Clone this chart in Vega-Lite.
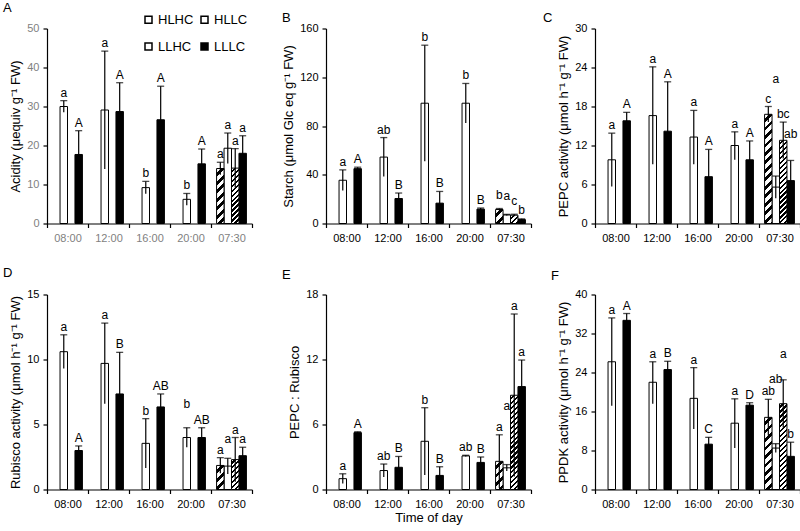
{
"$schema": "https://vega.github.io/schema/vega-lite/v6.json",
"padding": {"left": 3, "top": 1.5, "right": 0, "bottom": 0},
"params": [{"name": "hatch", "value": [{"offset":0,"color":"#fff"},{"offset":0.0229,"color":"#fff"},{"offset":0.0229,"color":"#000"},{"offset":0.0417,"color":"#000"},
{"offset":0.0417,"color":"#fff"},{"offset":0.0646,"color":"#fff"},{"offset":0.0646,"color":"#000"},{"offset":0.0833,"color":"#000"},
{"offset":0.0833,"color":"#fff"},{"offset":0.1063,"color":"#fff"},{"offset":0.1063,"color":"#000"},{"offset":0.125,"color":"#000"},
{"offset":0.125,"color":"#fff"},{"offset":0.1479,"color":"#fff"},{"offset":0.1479,"color":"#000"},{"offset":0.1667,"color":"#000"},
{"offset":0.1667,"color":"#fff"},{"offset":0.1896,"color":"#fff"},{"offset":0.1896,"color":"#000"},{"offset":0.2083,"color":"#000"},
{"offset":0.2083,"color":"#fff"},{"offset":0.2313,"color":"#fff"},{"offset":0.2313,"color":"#000"},{"offset":0.25,"color":"#000"},
{"offset":0.25,"color":"#fff"},{"offset":0.2729,"color":"#fff"},{"offset":0.2729,"color":"#000"},{"offset":0.2917,"color":"#000"},
{"offset":0.2917,"color":"#fff"},{"offset":0.3146,"color":"#fff"},{"offset":0.3146,"color":"#000"},{"offset":0.3333,"color":"#000"},
{"offset":0.3333,"color":"#fff"},{"offset":0.3563,"color":"#fff"},{"offset":0.3563,"color":"#000"},{"offset":0.375,"color":"#000"},
{"offset":0.375,"color":"#fff"},{"offset":0.3979,"color":"#fff"},{"offset":0.3979,"color":"#000"},{"offset":0.4167,"color":"#000"},
{"offset":0.4167,"color":"#fff"},{"offset":0.4396,"color":"#fff"},{"offset":0.4396,"color":"#000"},{"offset":0.4583,"color":"#000"},
{"offset":0.4583,"color":"#fff"},{"offset":0.4813,"color":"#fff"},{"offset":0.4813,"color":"#000"},{"offset":0.5,"color":"#000"},
{"offset":0.5,"color":"#fff"},{"offset":0.5229,"color":"#fff"},{"offset":0.5229,"color":"#000"},{"offset":0.5417,"color":"#000"},
{"offset":0.5417,"color":"#fff"},{"offset":0.5646,"color":"#fff"},{"offset":0.5646,"color":"#000"},{"offset":0.5833,"color":"#000"},
{"offset":0.5833,"color":"#fff"},{"offset":0.6063,"color":"#fff"},{"offset":0.6063,"color":"#000"},{"offset":0.625,"color":"#000"},
{"offset":0.625,"color":"#fff"},{"offset":0.6479,"color":"#fff"},{"offset":0.6479,"color":"#000"},{"offset":0.6667,"color":"#000"},
{"offset":0.6667,"color":"#fff"},{"offset":0.6896,"color":"#fff"},{"offset":0.6896,"color":"#000"},{"offset":0.7083,"color":"#000"},
{"offset":0.7083,"color":"#fff"},{"offset":0.7313,"color":"#fff"},{"offset":0.7313,"color":"#000"},{"offset":0.75,"color":"#000"},
{"offset":0.75,"color":"#fff"},{"offset":0.7729,"color":"#fff"},{"offset":0.7729,"color":"#000"},{"offset":0.7917,"color":"#000"},
{"offset":0.7917,"color":"#fff"},{"offset":0.8146,"color":"#fff"},{"offset":0.8146,"color":"#000"},{"offset":0.8333,"color":"#000"},
{"offset":0.8333,"color":"#fff"},{"offset":0.8563,"color":"#fff"},{"offset":0.8563,"color":"#000"},{"offset":0.875,"color":"#000"},
{"offset":0.875,"color":"#fff"},{"offset":0.8979,"color":"#fff"},{"offset":0.8979,"color":"#000"},{"offset":0.9167,"color":"#000"},
{"offset":0.9167,"color":"#fff"},{"offset":0.9396,"color":"#fff"},{"offset":0.9396,"color":"#000"},{"offset":0.9583,"color":"#000"},
{"offset":0.9583,"color":"#fff"},{"offset":0.9813,"color":"#fff"},{"offset":0.9813,"color":"#000"},{"offset":1,"color":"#000"}]},
{"name": "half", "value": [{"offset":0,"color":"#fff"},{"offset":0.5,"color":"#fff"},{"offset":0.5,"color":"#000"},{"offset":1,"color":"#000"}]}],
"data": {"values": [
{"p":"A","t":"08:00","g":"HLLC","v":30.0,"lo":28.5,"hi":31.5,"l":"a"},
{"p":"A","t":"08:00","g":"LLLC","v":17.7,"lo":11.6,"hi":23.8,"l":"A"},
{"p":"A","t":"12:00","g":"HLLC","v":29.1,"lo":14.0,"hi":44.2,"l":"a"},
{"p":"A","t":"12:00","g":"LLLC","v":28.7,"lo":21.3,"hi":36.1,"l":"A"},
{"p":"A","t":"16:00","g":"HLLC","v":9.2,"lo":7.6,"hi":10.8,"l":"b"},
{"p":"A","t":"16:00","g":"LLLC","v":26.6,"lo":18.0,"hi":35.2,"l":"A"},
{"p":"A","t":"20:00","g":"HLLC","v":6.2,"lo":4.7,"hi":7.7,"l":"b"},
{"p":"A","t":"20:00","g":"LLLC","v":15.3,"lo":11.5,"hi":19.1,"l":"A"},
{"p":"A","t":"07:30","g":"HLHC","v":14.1,"lo":12.5,"hi":15.7,"l":"a"},
{"p":"A","t":"07:30","g":"HLLC","v":19.3,"lo":15.4,"hi":23.2,"l":"a"},
{"p":"A","t":"07:30","g":"LLHC","v":14.2,"lo":9.2,"hi":19.2,"l":"a"},
{"p":"A","t":"07:30","g":"LLLC","v":18.0,"lo":13.5,"hi":22.5,"l":"a"},
{"p":"B","t":"08:00","g":"HLLC","v":35.5,"lo":27,"hi":44,"l":"a"},
{"p":"B","t":"08:00","g":"LLLC","v":45,"lo":44,"hi":46.2,"l":"A"},
{"p":"B","t":"12:00","g":"HLLC","v":54.5,"lo":38.5,"hi":70.5,"l":"ab"},
{"p":"B","t":"12:00","g":"LLLC","v":20.5,"lo":16,"hi":25,"l":"B"},
{"p":"B","t":"16:00","g":"HLLC","v":98.7,"lo":51,"hi":146.3,"l":"b"},
{"p":"B","t":"16:00","g":"LLLC","v":16.7,"lo":7.1,"hi":26.3,"l":"B"},
{"p":"B","t":"20:00","g":"HLLC","v":98.7,"lo":82.5,"hi":114.9,"l":"b"},
{"p":"B","t":"20:00","g":"LLLC","v":11.8,"lo":10.9,"hi":12.7,"l":"B"},
{"p":"B","t":"07:30","g":"HLHC","v":11.5,"lo":10.7,"hi":12.3,"l":"b","ly":20.5},
{"p":"B","t":"07:30","g":"HLLC","v":7.0,"lo":6.5,"hi":7.5,"l":"a","ly":19.5},
{"p":"B","t":"07:30","g":"LLHC","v":6.8,"lo":6.0,"hi":7.6,"l":"c","ly":15.5},
{"p":"B","t":"07:30","g":"LLLC","v":3.2,"lo":2.6,"hi":3.8,"l":"b","ly":8},
{"p":"C","t":"08:00","g":"HLLC","v":9.8,"lo":5.7,"hi":13.9,"l":"a"},
{"p":"C","t":"08:00","g":"LLLC","v":15.8,"lo":14.5,"hi":17.1,"l":"A"},
{"p":"C","t":"12:00","g":"HLLC","v":16.6,"lo":9.1,"hi":24.1,"l":"a"},
{"p":"C","t":"12:00","g":"LLLC","v":14.2,"lo":6.6,"hi":21.8,"l":"A"},
{"p":"C","t":"16:00","g":"HLLC","v":13.3,"lo":9.1,"hi":17.4,"l":"a"},
{"p":"C","t":"16:00","g":"LLLC","v":7.2,"lo":3.0,"hi":11.4,"l":"A"},
{"p":"C","t":"20:00","g":"HLLC","v":12.0,"lo":9.8,"hi":14.1,"l":"a"},
{"p":"C","t":"20:00","g":"LLLC","v":9.8,"lo":6.9,"hi":12.7,"l":"A"},
{"p":"C","t":"07:30","g":"HLHC","v":16.8,"lo":15.6,"hi":18.0,"l":"c"},
{"p":"C","t":"07:30","g":"HLLC","v":5.6,"lo":3.9,"hi":7.3,"l":"a","ly":21.6},
{"p":"C","t":"07:30","g":"LLHC","v":12.8,"lo":10.0,"hi":15.6,"l":"bc"},
{"p":"C","t":"07:30","g":"LLLC","v":6.6,"lo":3.5,"hi":9.7,"l":"ab","ly":13.2},
{"p":"D","t":"08:00","g":"HLLC","v":10.6,"lo":9.3,"hi":11.9,"l":"a"},
{"p":"D","t":"08:00","g":"LLLC","v":3.0,"lo":2.7,"hi":3.35,"l":"A"},
{"p":"D","t":"12:00","g":"HLLC","v":9.7,"lo":6.6,"hi":12.8,"l":"a"},
{"p":"D","t":"12:00","g":"LLLC","v":7.35,"lo":4.15,"hi":10.55,"l":"B"},
{"p":"D","t":"16:00","g":"HLLC","v":3.55,"lo":1.65,"hi":5.45,"l":"b"},
{"p":"D","t":"16:00","g":"LLLC","v":6.35,"lo":5.35,"hi":7.35,"l":"AB"},
{"p":"D","t":"20:00","g":"HLLC","v":4.0,"lo":3.25,"hi":4.75,"l":"b","ly":6.3},
{"p":"D","t":"20:00","g":"LLLC","v":4.0,"lo":3.25,"hi":4.75,"l":"AB"},
{"p":"D","t":"07:30","g":"HLHC","v":1.85,"lo":1.25,"hi":2.45,"l":"a"},
{"p":"D","t":"07:30","g":"HLLC","v":1.8,"lo":1.2,"hi":2.4,"l":"a","ly":3.6},
{"p":"D","t":"07:30","g":"LLHC","v":2.3,"lo":0.6,"hi":4.0,"l":"a"},
{"p":"D","t":"07:30","g":"LLLC","v":2.6,"lo":1.95,"hi":3.25,"l":"a"},
{"p":"E","t":"08:00","g":"HLLC","v":1.0,"lo":0.55,"hi":1.45,"l":"a"},
{"p":"E","t":"08:00","g":"LLLC","v":5.25,"lo":5.17,"hi":5.33,"l":"A"},
{"p":"E","t":"12:00","g":"HLLC","v":1.75,"lo":1.15,"hi":2.35,"l":"ab"},
{"p":"E","t":"12:00","g":"LLLC","v":2.05,"lo":1.05,"hi":3.05,"l":"B"},
{"p":"E","t":"16:00","g":"HLLC","v":4.45,"lo":1.35,"hi":7.55,"l":"b"},
{"p":"E","t":"16:00","g":"LLLC","v":1.3,"lo":0.5,"hi":2.1,"l":"B"},
{"p":"E","t":"20:00","g":"HLLC","v":3.1,"lo":3.04,"hi":3.16,"l":"ab"},
{"p":"E","t":"20:00","g":"LLLC","v":2.5,"lo":2.0,"hi":3.0,"l":"B"},
{"p":"E","t":"07:30","g":"HLHC","v":2.6,"lo":0.15,"hi":5.05,"l":"a"},
{"p":"E","t":"07:30","g":"HLLC","v":2.0,"lo":1.7,"hi":2.3,"l":"a","ly":7.3},
{"p":"E","t":"07:30","g":"LLHC","v":8.7,"lo":1.2,"hi":16.2,"l":"a"},
{"p":"E","t":"07:30","g":"LLLC","v":9.5,"lo":7.05,"hi":11.95,"l":"a"},
{"p":"F","t":"08:00","g":"HLLC","v":26.2,"lo":17.2,"hi":35.2,"l":"a"},
{"p":"F","t":"08:00","g":"LLLC","v":34.7,"lo":33.3,"hi":36.1,"l":"A"},
{"p":"F","t":"12:00","g":"HLLC","v":22.0,"lo":17.6,"hi":26.2,"l":"a"},
{"p":"F","t":"12:00","g":"LLLC","v":24.6,"lo":22.9,"hi":26.3,"l":"B"},
{"p":"F","t":"16:00","g":"HLLC","v":18.7,"lo":12.4,"hi":25.0,"l":"a"},
{"p":"F","t":"16:00","g":"LLLC","v":9.3,"lo":7.9,"hi":10.7,"l":"C"},
{"p":"F","t":"20:00","g":"HLLC","v":13.6,"lo":8.5,"hi":18.6,"l":"a"},
{"p":"F","t":"20:00","g":"LLLC","v":17.3,"lo":16.8,"hi":17.8,"l":"D"},
{"p":"F","t":"07:30","g":"HLHC","v":14.8,"lo":11.1,"hi":18.5,"l":"ab"},
{"p":"F","t":"07:30","g":"HLLC","v":8.5,"lo":7.6,"hi":9.4,"l":"ab","ly":21.8},
{"p":"F","t":"07:30","g":"LLHC","v":17.6,"lo":12.7,"hi":22.5,"l":"a","ly":27},
{"p":"F","t":"07:30","g":"LLLC","v":6.8,"lo":3.9,"hi":9.7,"l":"b"}
]},
"columns": 3,
"spacing": {"row": 71, "column": 64},
"bounds": "flush",
"resolve": {"scale": {"fill": "independent"}, "legend": {"fill": "independent"}},
"concat": [
{
 "title": "A", "width": 215, "height": 195,
 "transform": [{"filter": "datum.p==='A'"}],
 "encoding": {
  "x": {"field": "t", "type": "nominal", "scale": {"domain": ["08:00","12:00","16:00","20:00","07:30"], "paddingInner": 0, "paddingOuter": 0, "range": [0, 205]}, "axis": {"title": null, "labelColor": "#7f7f7f"}},
  "xOffset": {"field": "g", "type": "nominal", "scale": {"domain": ["HLHC","HLLC","LLHC","LLLC"], "paddingInner": 0, "paddingOuter": 0.75}}
 },
 "layer": [
  {"transform": [{"filter": "datum.g==='HLLC'||datum.g==='LLLC'"}], "mark": {"type": "bar", "stroke": "#000", "strokeWidth": 1},
   "encoding": {"y": {"field": "v", "type": "quantitative", "scale": {"domain": [0, 50], "nice": false}, "axis": {"values": [0,10,20,30,40,50], "title": "Acidity  (μequiv g⁻¹ FW)", "labelColor": "#7f7f7f"}},
    "fill": {"field": "g", "type": "nominal", "scale": {"domain": ["HLHC","LLHC","HLLC","LLLC"], "range": ["#fff","#fff","#fff","#000"]},
     "legend": {"orient": "none", "legendX": 95, "legendY": -15.5, "columns": 2, "title": null, "symbolType": "square", "symbolSize": 49, "labelFontSize": 13, "labelOffset": 3, "rowPadding": 13, "columnPadding": 4, "labelColor": "#000", "labelFont": "Liberation Sans",
      "encode": {"symbols": {"update": {"fill": {"signal": "datum.value==='HLHC'?{gradient:'linear',x1:0,y1:0,x2:1,y2:1,stops:half}:datum.value==='LLHC'?{gradient:'linear',x1:0,y1:0,x2:8,y2:8,stops:hatch}:datum.value==='HLLC'?'#fff':'#000'"}, "stroke": {"value": "#000"}, "strokeWidth": {"value": 1}, "opacity": {"value": 1}}}}}}}},
  {"transform": [{"filter": "datum.g==='HLHC'||datum.g==='LLHC'"}], "mark": {"type": "bar", "stroke": "#000", "strokeWidth": 1, "fill": {"expr": "{gradient:'linear',x1:0,y1:0,x2:(datum.g==='HLHC'?203.6:118.8)*7.45/(pow(datum.v*3.9,2)+55.5),y2:(datum.g==='HLHC'?203.6:118.8)*datum.v*3.9/(pow(datum.v*3.9,2)+55.5),stops:hatch}"}},
   "encoding": {"y": {"field": "v", "type": "quantitative", "scale": {"domain": [0, 50], "nice": false}, "axis": {"values": [0,10,20,30,40,50], "title": "Acidity  (μequiv g⁻¹ FW)", "labelColor": "#7f7f7f"}}}},
  {"mark": {"type": "rule", "color": "#000", "strokeWidth": 1.2}, "encoding": {"y": {"field": "lo", "type": "quantitative", "scale": {"domain": [0, 50], "nice": false}, "axis": {"values": [0,10,20,30,40,50], "title": "Acidity  (μequiv g⁻¹ FW)", "labelColor": "#7f7f7f"}}, "y2": {"field": "hi"}}},
  {"mark": {"type": "tick", "orient": "horizontal", "size": 7, "thickness": 1.3, "color": "#000"}, "encoding": {"y": {"field": "hi", "type": "quantitative", "scale": {"domain": [0, 50], "nice": false}, "axis": {"values": [0,10,20,30,40,50], "title": "Acidity  (μequiv g⁻¹ FW)", "labelColor": "#7f7f7f"}}}},
  {"transform": [{"filter": "!isValid(datum.ly)"}], "mark": {"type": "text", "dy": -4, "baseline": "alphabetic"}, "encoding": {"y": {"field": "hi", "type": "quantitative", "scale": {"domain": [0, 50], "nice": false}, "axis": {"values": [0,10,20,30,40,50], "title": "Acidity  (μequiv g⁻¹ FW)", "labelColor": "#7f7f7f"}}, "text": {"field": "l"}}},
  {"transform": [{"filter": "isValid(datum.ly)"}], "mark": {"type": "text", "baseline": "alphabetic"}, "encoding": {"y": {"field": "ly", "type": "quantitative", "scale": {"domain": [0, 50], "nice": false}, "axis": {"values": [0,10,20,30,40,50], "title": "Acidity  (μequiv g⁻¹ FW)", "labelColor": "#7f7f7f"}}, "text": {"field": "l"}}}
 ]
},
{
 "title": "B", "width": 205, "height": 195,
 "transform": [{"filter": "datum.p==='B'"}],
 "encoding": {
  "x": {"field": "t", "type": "nominal", "scale": {"domain": ["08:00","12:00","16:00","20:00","07:30"], "paddingInner": 0, "paddingOuter": 0}, "axis": {"title": null}},
  "xOffset": {"field": "g", "type": "nominal", "scale": {"domain": ["HLHC","HLLC","LLHC","LLLC"], "paddingInner": 0, "paddingOuter": 0.75}}
 },
 "layer": [
  {"transform": [{"filter": "datum.g==='HLLC'||datum.g==='LLLC'"}], "mark": {"type": "bar", "stroke": "#000", "strokeWidth": 1},
   "encoding": {"y": {"field": "v", "type": "quantitative", "scale": {"domain": [0, 160], "nice": false}, "axis": {"values": [0,40,80,120,160], "title": "Starch (μmol Glc eq g⁻¹ FW)"}},
    "fill": {"field": "g", "type": "nominal", "scale": {"domain": ["HLHC","LLHC","HLLC","LLLC"], "range": ["#fff","#fff","#fff","#000"]}, "legend": null}}},
  {"transform": [{"filter": "datum.g==='HLHC'||datum.g==='LLHC'"}], "mark": {"type": "bar", "stroke": "#000", "strokeWidth": 1, "fill": {"expr": "{gradient:'linear',x1:0,y1:0,x2:(datum.g==='HLHC'?203.6:118.8)*7.45/(pow(datum.v*1.21875,2)+55.5),y2:(datum.g==='HLHC'?203.6:118.8)*datum.v*1.21875/(pow(datum.v*1.21875,2)+55.5),stops:hatch}"}},
   "encoding": {"y": {"field": "v", "type": "quantitative", "scale": {"domain": [0, 160], "nice": false}, "axis": {"values": [0,40,80,120,160], "title": "Starch (μmol Glc eq g⁻¹ FW)"}}}},
  {"mark": {"type": "rule", "color": "#000", "strokeWidth": 1.2}, "encoding": {"y": {"field": "lo", "type": "quantitative", "scale": {"domain": [0, 160], "nice": false}, "axis": {"values": [0,40,80,120,160], "title": "Starch (μmol Glc eq g⁻¹ FW)"}}, "y2": {"field": "hi"}}},
  {"mark": {"type": "tick", "orient": "horizontal", "size": 7, "thickness": 1.3, "color": "#000"}, "encoding": {"y": {"field": "hi", "type": "quantitative", "scale": {"domain": [0, 160], "nice": false}, "axis": {"values": [0,40,80,120,160], "title": "Starch (μmol Glc eq g⁻¹ FW)"}}}},
  {"transform": [{"filter": "!isValid(datum.ly)"}], "mark": {"type": "text", "dy": -4, "baseline": "alphabetic"}, "encoding": {"y": {"field": "hi", "type": "quantitative", "scale": {"domain": [0, 160], "nice": false}, "axis": {"values": [0,40,80,120,160], "title": "Starch (μmol Glc eq g⁻¹ FW)"}}, "text": {"field": "l"}}},
  {"transform": [{"filter": "isValid(datum.ly)"}], "mark": {"type": "text", "baseline": "alphabetic"}, "encoding": {"y": {"field": "ly", "type": "quantitative", "scale": {"domain": [0, 160], "nice": false}, "axis": {"values": [0,40,80,120,160], "title": "Starch (μmol Glc eq g⁻¹ FW)"}}, "text": {"field": "l"}}}
 ]
},
{
 "title": {"text": "C", "dx": -52}, "width": 205, "height": 195,
 "transform": [{"filter": "datum.p==='C'"}],
 "encoding": {
  "x": {"field": "t", "type": "nominal", "scale": {"domain": ["08:00","12:00","16:00","20:00","07:30"], "paddingInner": 0, "paddingOuter": 0}, "axis": {"title": null}},
  "xOffset": {"field": "g", "type": "nominal", "scale": {"domain": ["HLHC","HLLC","LLHC","LLLC"], "paddingInner": 0, "paddingOuter": 0.75}}
 },
 "layer": [
  {"transform": [{"filter": "datum.g==='HLLC'||datum.g==='LLLC'"}], "mark": {"type": "bar", "stroke": "#000", "strokeWidth": 1},
   "encoding": {"y": {"field": "v", "type": "quantitative", "scale": {"domain": [0, 30], "nice": false}, "axis": {"values": [0,6,12,18,24,30], "title": "PEPC activity (μmol h⁻¹ g⁻¹ FW)"}},
    "fill": {"field": "g", "type": "nominal", "scale": {"domain": ["HLHC","LLHC","HLLC","LLLC"], "range": ["#fff","#fff","#fff","#000"]}, "legend": null}}},
  {"transform": [{"filter": "datum.g==='HLHC'||datum.g==='LLHC'"}], "mark": {"type": "bar", "stroke": "#000", "strokeWidth": 1, "fill": {"expr": "{gradient:'linear',x1:0,y1:0,x2:(datum.g==='HLHC'?203.6:118.8)*7.45/(pow(datum.v*6.5,2)+55.5),y2:(datum.g==='HLHC'?203.6:118.8)*datum.v*6.5/(pow(datum.v*6.5,2)+55.5),stops:hatch}"}},
   "encoding": {"y": {"field": "v", "type": "quantitative", "scale": {"domain": [0, 30], "nice": false}, "axis": {"values": [0,6,12,18,24,30], "title": "PEPC activity (μmol h⁻¹ g⁻¹ FW)"}}}},
  {"mark": {"type": "rule", "color": "#000", "strokeWidth": 1.2}, "encoding": {"y": {"field": "lo", "type": "quantitative", "scale": {"domain": [0, 30], "nice": false}, "axis": {"values": [0,6,12,18,24,30], "title": "PEPC activity (μmol h⁻¹ g⁻¹ FW)"}}, "y2": {"field": "hi"}}},
  {"mark": {"type": "tick", "orient": "horizontal", "size": 7, "thickness": 1.3, "color": "#000"}, "encoding": {"y": {"field": "hi", "type": "quantitative", "scale": {"domain": [0, 30], "nice": false}, "axis": {"values": [0,6,12,18,24,30], "title": "PEPC activity (μmol h⁻¹ g⁻¹ FW)"}}}},
  {"transform": [{"filter": "!isValid(datum.ly)"}], "mark": {"type": "text", "dy": -4, "baseline": "alphabetic"}, "encoding": {"y": {"field": "hi", "type": "quantitative", "scale": {"domain": [0, 30], "nice": false}, "axis": {"values": [0,6,12,18,24,30], "title": "PEPC activity (μmol h⁻¹ g⁻¹ FW)"}}, "text": {"field": "l"}}},
  {"transform": [{"filter": "isValid(datum.ly)"}], "mark": {"type": "text", "baseline": "alphabetic"}, "encoding": {"y": {"field": "ly", "type": "quantitative", "scale": {"domain": [0, 30], "nice": false}, "axis": {"values": [0,6,12,18,24,30], "title": "PEPC activity (μmol h⁻¹ g⁻¹ FW)"}}, "text": {"field": "l"}}}
 ]
},
{
 "title": {"text": "D", "dy": -5}, "width": 215, "height": 195,
 "transform": [{"filter": "datum.p==='D'"}],
 "encoding": {
  "x": {"field": "t", "type": "nominal", "scale": {"domain": ["08:00","12:00","16:00","20:00","07:30"], "paddingInner": 0, "paddingOuter": 0, "range": [0, 205]}, "axis": {"title": null}},
  "xOffset": {"field": "g", "type": "nominal", "scale": {"domain": ["HLHC","HLLC","LLHC","LLLC"], "paddingInner": 0, "paddingOuter": 0.75}}
 },
 "layer": [
  {"transform": [{"filter": "datum.g==='HLLC'||datum.g==='LLLC'"}], "mark": {"type": "bar", "stroke": "#000", "strokeWidth": 1},
   "encoding": {"y": {"field": "v", "type": "quantitative", "scale": {"domain": [0, 15], "nice": false}, "axis": {"values": [0,5,10,15], "title": "Rubisco activity (μmol h⁻¹ g⁻¹ FW)"}},
    "fill": {"field": "g", "type": "nominal", "scale": {"domain": ["HLHC","LLHC","HLLC","LLLC"], "range": ["#fff","#fff","#fff","#000"]}, "legend": null}}},
  {"transform": [{"filter": "datum.g==='HLHC'||datum.g==='LLHC'"}], "mark": {"type": "bar", "stroke": "#000", "strokeWidth": 1, "fill": {"expr": "{gradient:'linear',x1:0,y1:0,x2:(datum.g==='HLHC'?203.6:118.8)*7.45/(pow(datum.v*13,2)+55.5),y2:(datum.g==='HLHC'?203.6:118.8)*datum.v*13/(pow(datum.v*13,2)+55.5),stops:hatch}"}},
   "encoding": {"y": {"field": "v", "type": "quantitative", "scale": {"domain": [0, 15], "nice": false}, "axis": {"values": [0,5,10,15], "title": "Rubisco activity (μmol h⁻¹ g⁻¹ FW)"}}}},
  {"mark": {"type": "rule", "color": "#000", "strokeWidth": 1.2}, "encoding": {"y": {"field": "lo", "type": "quantitative", "scale": {"domain": [0, 15], "nice": false}, "axis": {"values": [0,5,10,15], "title": "Rubisco activity (μmol h⁻¹ g⁻¹ FW)"}}, "y2": {"field": "hi"}}},
  {"mark": {"type": "tick", "orient": "horizontal", "size": 7, "thickness": 1.3, "color": "#000"}, "encoding": {"y": {"field": "hi", "type": "quantitative", "scale": {"domain": [0, 15], "nice": false}, "axis": {"values": [0,5,10,15], "title": "Rubisco activity (μmol h⁻¹ g⁻¹ FW)"}}}},
  {"transform": [{"filter": "!isValid(datum.ly)"}], "mark": {"type": "text", "dy": -4, "baseline": "alphabetic"}, "encoding": {"y": {"field": "hi", "type": "quantitative", "scale": {"domain": [0, 15], "nice": false}, "axis": {"values": [0,5,10,15], "title": "Rubisco activity (μmol h⁻¹ g⁻¹ FW)"}}, "text": {"field": "l"}}},
  {"transform": [{"filter": "isValid(datum.ly)"}], "mark": {"type": "text", "baseline": "alphabetic"}, "encoding": {"y": {"field": "ly", "type": "quantitative", "scale": {"domain": [0, 15], "nice": false}, "axis": {"values": [0,5,10,15], "title": "Rubisco activity (μmol h⁻¹ g⁻¹ FW)"}}, "text": {"field": "l"}}}
 ]
},
{
 "title": {"text": "E", "dy": -2.5}, "width": 205, "height": 195,
 "transform": [{"filter": "datum.p==='E'"}],
 "encoding": {
  "x": {"field": "t", "type": "nominal", "scale": {"domain": ["08:00","12:00","16:00","20:00","07:30"], "paddingInner": 0, "paddingOuter": 0}, "axis": {"title": "Time of day", "titlePadding": 2}},
  "xOffset": {"field": "g", "type": "nominal", "scale": {"domain": ["HLHC","HLLC","LLHC","LLLC"], "paddingInner": 0, "paddingOuter": 0.75}}
 },
 "layer": [
  {"transform": [{"filter": "datum.g==='HLLC'||datum.g==='LLLC'"}], "mark": {"type": "bar", "stroke": "#000", "strokeWidth": 1},
   "encoding": {"y": {"field": "v", "type": "quantitative", "scale": {"domain": [0, 18], "nice": false}, "axis": {"values": [0,6,12,18], "title": "PEPC : Rubisco"}},
    "fill": {"field": "g", "type": "nominal", "scale": {"domain": ["HLHC","LLHC","HLLC","LLLC"], "range": ["#fff","#fff","#fff","#000"]}, "legend": null}}},
  {"transform": [{"filter": "datum.g==='HLHC'||datum.g==='LLHC'"}], "mark": {"type": "bar", "stroke": "#000", "strokeWidth": 1, "fill": {"expr": "{gradient:'linear',x1:0,y1:0,x2:(datum.g==='HLHC'?203.6:118.8)*7.45/(pow(datum.v*10.8333,2)+55.5),y2:(datum.g==='HLHC'?203.6:118.8)*datum.v*10.8333/(pow(datum.v*10.8333,2)+55.5),stops:hatch}"}},
   "encoding": {"y": {"field": "v", "type": "quantitative", "scale": {"domain": [0, 18], "nice": false}, "axis": {"values": [0,6,12,18], "title": "PEPC : Rubisco"}}}},
  {"mark": {"type": "rule", "color": "#000", "strokeWidth": 1.2}, "encoding": {"y": {"field": "lo", "type": "quantitative", "scale": {"domain": [0, 18], "nice": false}, "axis": {"values": [0,6,12,18], "title": "PEPC : Rubisco"}}, "y2": {"field": "hi"}}},
  {"mark": {"type": "tick", "orient": "horizontal", "size": 7, "thickness": 1.3, "color": "#000"}, "encoding": {"y": {"field": "hi", "type": "quantitative", "scale": {"domain": [0, 18], "nice": false}, "axis": {"values": [0,6,12,18], "title": "PEPC : Rubisco"}}}},
  {"transform": [{"filter": "!isValid(datum.ly)"}], "mark": {"type": "text", "dy": -4, "baseline": "alphabetic"}, "encoding": {"y": {"field": "hi", "type": "quantitative", "scale": {"domain": [0, 18], "nice": false}, "axis": {"values": [0,6,12,18], "title": "PEPC : Rubisco"}}, "text": {"field": "l"}}},
  {"transform": [{"filter": "isValid(datum.ly)"}], "mark": {"type": "text", "baseline": "alphabetic"}, "encoding": {"y": {"field": "ly", "type": "quantitative", "scale": {"domain": [0, 18], "nice": false}, "axis": {"values": [0,6,12,18], "title": "PEPC : Rubisco"}}, "text": {"field": "l"}}}
 ]
},
{
 "title": {"text": "F", "dy": -1.5}, "width": 205, "height": 195,
 "transform": [{"filter": "datum.p==='F'"}],
 "encoding": {
  "x": {"field": "t", "type": "nominal", "scale": {"domain": ["08:00","12:00","16:00","20:00","07:30"], "paddingInner": 0, "paddingOuter": 0}, "axis": {"title": null}},
  "xOffset": {"field": "g", "type": "nominal", "scale": {"domain": ["HLHC","HLLC","LLHC","LLLC"], "paddingInner": 0, "paddingOuter": 0.75}}
 },
 "layer": [
  {"transform": [{"filter": "datum.g==='HLLC'||datum.g==='LLLC'"}], "mark": {"type": "bar", "stroke": "#000", "strokeWidth": 1},
   "encoding": {"y": {"field": "v", "type": "quantitative", "scale": {"domain": [0, 40], "nice": false}, "axis": {"values": [0,8,16,24,32,40], "title": "PPDK activity (μmol h⁻¹ g⁻¹ FW)"}},
    "fill": {"field": "g", "type": "nominal", "scale": {"domain": ["HLHC","LLHC","HLLC","LLLC"], "range": ["#fff","#fff","#fff","#000"]}, "legend": null}}},
  {"transform": [{"filter": "datum.g==='HLHC'||datum.g==='LLHC'"}], "mark": {"type": "bar", "stroke": "#000", "strokeWidth": 1, "fill": {"expr": "{gradient:'linear',x1:0,y1:0,x2:(datum.g==='HLHC'?203.6:118.8)*7.45/(pow(datum.v*4.875,2)+55.5),y2:(datum.g==='HLHC'?203.6:118.8)*datum.v*4.875/(pow(datum.v*4.875,2)+55.5),stops:hatch}"}},
   "encoding": {"y": {"field": "v", "type": "quantitative", "scale": {"domain": [0, 40], "nice": false}, "axis": {"values": [0,8,16,24,32,40], "title": "PPDK activity (μmol h⁻¹ g⁻¹ FW)"}}}},
  {"mark": {"type": "rule", "color": "#000", "strokeWidth": 1.2}, "encoding": {"y": {"field": "lo", "type": "quantitative", "scale": {"domain": [0, 40], "nice": false}, "axis": {"values": [0,8,16,24,32,40], "title": "PPDK activity (μmol h⁻¹ g⁻¹ FW)"}}, "y2": {"field": "hi"}}},
  {"mark": {"type": "tick", "orient": "horizontal", "size": 7, "thickness": 1.3, "color": "#000"}, "encoding": {"y": {"field": "hi", "type": "quantitative", "scale": {"domain": [0, 40], "nice": false}, "axis": {"values": [0,8,16,24,32,40], "title": "PPDK activity (μmol h⁻¹ g⁻¹ FW)"}}}},
  {"transform": [{"filter": "!isValid(datum.ly)"}], "mark": {"type": "text", "dy": -4, "baseline": "alphabetic"}, "encoding": {"y": {"field": "hi", "type": "quantitative", "scale": {"domain": [0, 40], "nice": false}, "axis": {"values": [0,8,16,24,32,40], "title": "PPDK activity (μmol h⁻¹ g⁻¹ FW)"}}, "text": {"field": "l"}}},
  {"transform": [{"filter": "isValid(datum.ly)"}], "mark": {"type": "text", "baseline": "alphabetic"}, "encoding": {"y": {"field": "ly", "type": "quantitative", "scale": {"domain": [0, 40], "nice": false}, "axis": {"values": [0,8,16,24,32,40], "title": "PPDK activity (μmol h⁻¹ g⁻¹ FW)"}}, "text": {"field": "l"}}}
 ]
}
],
"config": {
 "font": "Liberation Sans",
 "view": {"stroke": null},
 "axis": {"domainColor": "#000", "domainWidth": 1.2, "tickColor": "#000", "tickWidth": 1.2, "tickSize": 4, "labelColor": "#000", "labelFont": "Liberation Sans", "labelFontSize": 11, "labelPadding": 4, "titleFont": "Liberation Sans", "titleFontSize": 13, "titleFontWeight": "normal", "titleColor": "#000", "grid": false},
 "axisX": {"labelAngle": 0, "tickBand": "extent", "labelPadding": 5},
 "axisY": {"titlePadding": 4},
 "title": {"anchor": "start", "frame": "group", "dx": -44, "dy": 6, "offset": 0, "fontSize": 13, "fontWeight": "normal", "font": "Liberation Sans", "color": "#000"},
 "text": {"font": "Liberation Sans", "fontSize": 12, "color": "#000"}
}
}
